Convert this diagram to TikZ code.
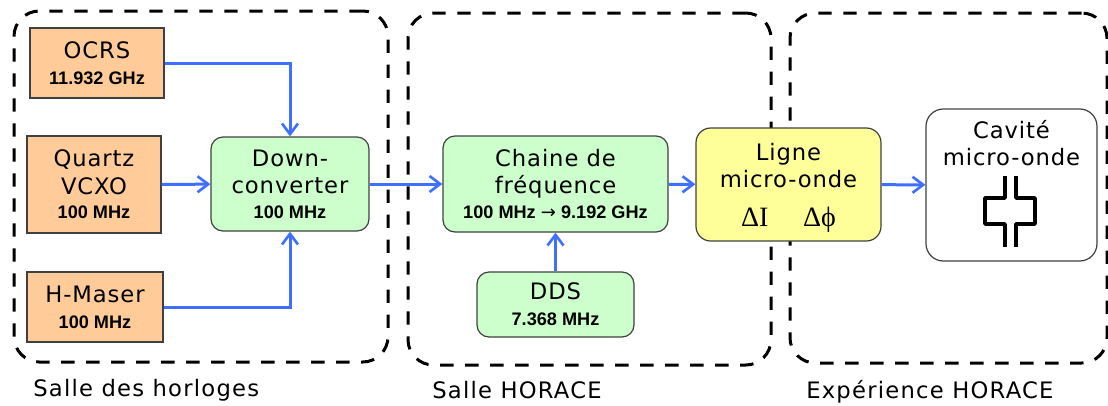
\documentclass[tikz,border=0pt]{standalone}
\usepackage{fontspec}
\setmainfont[LetterSpace=4]{DejaVu Sans}
\newfontfamily\freqfont{Liberation Sans}
\newfontfamily\symbfont{Liberation Serif}
\newfontfamily\arrowfont{DejaVu Sans}
\usetikzlibrary{arrows.meta}
\newcommand{\freq}[1]{{\freqfont\bfseries\fontsize{13.6pt}{18pt}\selectfont #1}}
\definecolor{linkblue}{HTML}{3F6FFF}
\definecolor{sourcefill}{HTML}{FFCC99}
\definecolor{convertfill}{HTML}{CCFFCC}
\definecolor{lignefill}{HTML}{FFFF99}
\tikzset{
  zone/.style={draw=black,line width=2.25pt,rounded corners=19pt,dash pattern=on 10pt off 8.75pt,inner sep=0pt},
  block/.style={draw=black!75,line width=0.9pt,align=center,inner sep=0pt,font=\fontsize{17pt}{20.5pt}\selectfont},
  source/.style={block,fill=sourcefill},
  convert/.style={block,fill=convertfill,rounded corners=9pt},
  zonelabel/.style={anchor=base west,inner sep=0pt,font=\fontsize{17pt}{20.5pt}\selectfont\addfontfeature{LetterSpace=5.5}},
  link/.style={draw=linkblue,line width=2.25pt,-{Straight Barb[length=8pt,width=12pt,line width=2pt]}}
}
\begin{document}
\begin{tikzpicture}[x=0.75pt,y=-0.75pt]
\useasboundingbox (0,0) rectangle (1108,405);
% zones
\node[zone,minimum width=280.5pt,minimum height=263.25pt] (horloges) at (201,186.5) {};
\node[zone,minimum width=272.25pt,minimum height=264pt] (horace) at (589.5,189) {};
\node[zone,minimum width=237.75pt,minimum height=262.5pt] (experience) at (948.5,188) {};
\node[zonelabel] (lhorloges) at (33,396) {Salle des horloges};
\node[zonelabel] (lhorace) at (432,398) {Salle HORACE};
\node[zonelabel] (lexperience) at (806,398) {Expérience HORACE};
% sources
\node[source,minimum width=100.5pt,minimum height=52.5pt] (ocrs) at (97,63) {OCRS\\[-1pt]\freq{11.932 GHz}};
\node[source,minimum width=100.5pt,minimum height=72.75pt] (quartz) at (94,184.5) {Quartz\\VCXO\\[-2pt]\freq{100 MHz}};
\node[source,minimum width=102pt,minimum height=52.5pt] (maser) at (95,307) {H-Maser\\[-1pt]\freq{100 MHz}};
% electronics
\node[convert,minimum width=118.5pt,minimum height=70.5pt] (down) at (290,184) {Down-\\converter\\[-2pt]\freq{100 MHz}};
\node[convert,minimum width=168.75pt,minimum height=72pt] (chaine) at (555.5,184) {Chaine de\\fréquence\\[-2pt]\freq{100 MHz {\arrowfont\mdseries →} 9.192 GHz}};
\node[convert,minimum width=117.75pt,minimum height=48.75pt] (dds) at (555.5,304.5) {DDS\\[-1pt]\freq{7.368 MHz}};
\node[block,fill=lignefill,rounded corners=11pt,minimum width=138.75pt,minimum height=84.75pt] (ligne) at (788.5,184.5) {\rule{0pt}{18pt}Ligne\\micro-onde\\[9pt]{\symbfont\fontsize{21pt}{21pt}\selectfont ΔI\hspace{26pt}Δϕ}};
\node[block,fill=white,rounded corners=13pt,minimum width=128.25pt,minimum height=114pt] (cavite) at (1011.5,185) {};
\node[inner sep=0pt,align=center,font=\fontsize{17pt}{20.5pt}\selectfont] (tcavite) at (1011.5,143) {Cavité\\micro-onde};
% cavity symbol
\draw[line width=2.6pt,line join=round] (1005,176) -- (1005,198) -- (985,198) -- (985,224) -- (1005,224) -- (1005,247);
\draw[line width=2.6pt,line join=round] (1016,176) -- (1016,198) -- (1035,198) -- (1035,224) -- (1016,224) -- (1016,247);
% links
\draw[link] (ocrs.east) -| (down.north);
\draw[link] (quartz) -- (down);
\draw[link] (maser.east) -| (down.south);
\draw[link] (down) -- (chaine);
\draw[link] (dds) -- (chaine);
\draw[link] (chaine) -- (ligne);
\draw[link] (ligne) -- (cavite);
\end{tikzpicture}
\end{document}
